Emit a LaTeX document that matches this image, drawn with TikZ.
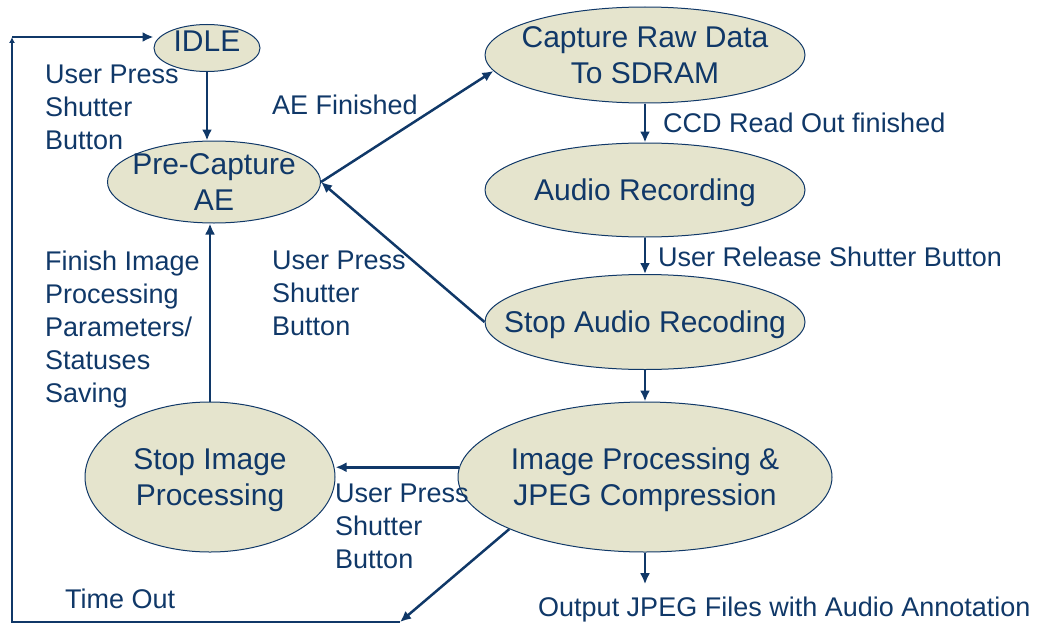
\documentclass[tikz,border=0pt]{standalone}
\usepackage{fontspec}
\setmainfont{Liberation Sans}
\usetikzlibrary{shapes.geometric,arrows.meta}
\definecolor{navy}{RGB}{16,56,104}
\definecolor{sand}{RGB}{229,228,205}
\begin{document}
\begin{tikzpicture}[x=1pt,y=-1pt,
    stage/.style={ellipse,draw=navy,fill=sand,line width=1pt,text=navy,align=center,inner xsep=-60pt,inner ysep=-20pt,text depth=0pt,font=\fontsize{30}{36}\selectfont},
    link/.style={draw=navy,line width=2.5pt,-{Latex[length=11pt,width=10pt]}},
    lbl/.style={anchor=west,align=left,inner sep=0pt,text=navy,font=\fontsize{27}{33}\selectfont}]
  \useasboundingbox (0,0) rectangle (1040,626);
  \node[stage,minimum width=106pt,minimum height=47pt,text depth=13pt] (idle) at (207,48) {IDLE};
  \node[stage,minimum width=213pt,minimum height=82pt] (pre) at (214,182) {Pre-Capture\\AE};
  \node[stage,minimum width=320pt,minimum height=96pt] (cap) at (645,55) {Capture Raw Data\\To SDRAM};
  \node[stage,minimum width=320pt,minimum height=94pt] (aud) at (645,190) {Audio Recording};
  \node[stage,minimum width=320pt,minimum height=95pt] (sa) at (645,322) {Stop Audio Recoding};
  \node[stage,minimum width=374pt,minimum height=150pt] (ip) at (645,477) {Image Processing \&\\JPEG Compression};
  \node[stage,minimum width=250pt,minimum height=150pt] (si) at (210,477) {Stop Image\\Processing};

  \node[lbl] (l-idle) at (45,107.5) {User Press\\Shutter\\Button};
  \node[lbl] (l-ae) at (272,105) {AE Finished};
  \node[lbl] (l-ccd) at (663,123) {CCD Read Out finished};
  \node[lbl] (l-rel) at (658,257) {User Release Shutter Button};
  \node[lbl] (l-save) at (45,330) {Finish Image\\Processing\\Parameters/\\Statuses\\Saving};
  \node[lbl] (l-press) at (272,293.5) {User Press\\Shutter\\Button};
  \node[lbl] (l-stop) at (335,526.5) {User Press\\Shutter\\Button};
  \node[lbl] (l-time) at (65,599) {Time Out};
  \node[lbl] (out) at (538,610) {Output JPEG Files with Audio Annotation};

  \coordinate (bend) at (400,622);
  \coordinate (corner) at (12,37);

  \draw[link] (idle.south) -- (idle.south |- pre.north);
  \draw[link] (si.north) -- (si.north |- pre.south);
  \draw[link] (pre.east) -- (cap.186);
  \draw[link] (sa.west) -- (pre.east);
  \draw[link] (cap.south) -- (aud.north);
  \draw[link] (aud.south) -- (sa.north);
  \draw[link] (sa.south) -- (ip.north);
  \draw[link] (ip.177.5) -- (si.east |- ip.177.5);
  \draw[link,shorten >=13pt] (ip.south) -- (ip.south |- out.north);
  \draw[link] (ip.201) -- (bend);
  \draw[link,-{Latex[length=6pt,width=6pt]}] (bend) -| (corner);
  \draw[link] (corner) -- (corner -| idle.west);
\end{tikzpicture}
\end{document}
